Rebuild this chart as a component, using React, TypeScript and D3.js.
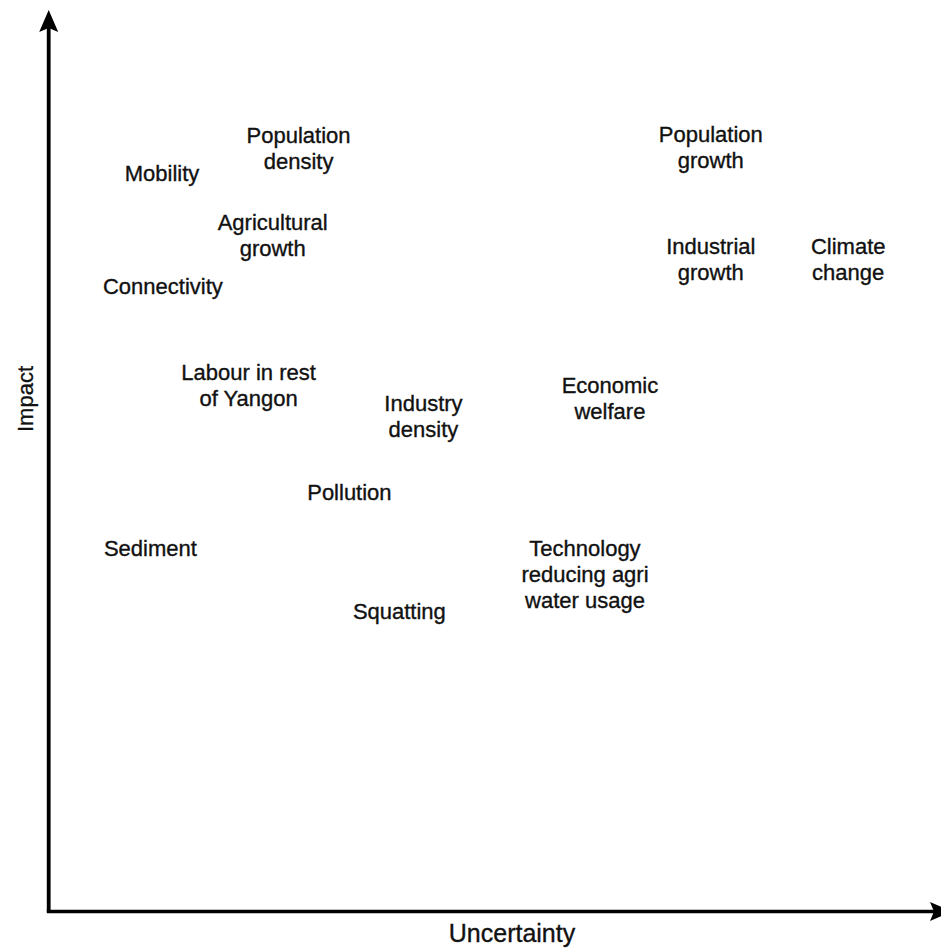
import React from "react";
import * as d3 from "d3";

const labels: string[] = [
  "Population\ndensity",
  "Mobility",
  "Agricultural\ngrowth",
  "Connectivity",
  "Population\ngrowth",
  "Industrial\ngrowth",
  "Climate\nchange",
  "Labour in rest\nof Yangon",
  "Industry\ndensity",
  "Economic\nwelfare",
  "Pollution",
  "Sediment",
  "Technology\nreducing agri\nwater usage",
  "Squatting",
];
const uncertainty: number[] = [28.0, 12.7, 25.1, 12.8, 74.2, 74.2, 89.6, 22.4, 42.0, 62.9, 33.7, 11.4, 60.1, 39.3];
const impact: number[] = [84.7, 81.9, 75.0, 69.4, 84.8, 72.4, 72.4, 58.4, 55.0, 56.9, 46.5, 40.3, 37.4, 33.3];

const xTitle = "Uncertainty";
const yTitle = "Impact";

const W = 941;
const H = 949;

export default function App() {
  const x = d3.scaleLinear().domain([0, 100]).range([48.7, 941]);
  const y = d3.scaleLinear().domain([0, 100]).range([911.5, 10]);
  const fs = 22;
  const lh = 26;
  const font = "'Liberation Sans', Arial, Helvetica, sans-serif";
  const x0 = x(0);
  const y0 = y(0);
  const yTop = y(100);
  const xEnd = x(100);
  const ah = 22;
  const aw = 9.5;
  const notch = 4;
  const upArrow = `M${x0},${yTop} L${x0 + aw},${yTop + ah} L${x0},${yTop + ah - notch} L${x0 - aw},${yTop + ah} Z`;
  const rightTip = xEnd + 11;
  const rightArrow = `M${rightTip},${y0} L${rightTip - ah},${y0 - aw} L${rightTip - ah + notch},${y0} L${rightTip - ah},${y0 + aw} Z`;

  return (
    <svg width={W} height={H} style={{ position: "absolute", left: 0, top: 0, background: "#fff" }}>
      <rect width={W} height={H} fill="#fff" />
      <line x1={x0} y1={y0} x2={x0} y2={yTop + ah - notch} stroke="#000" strokeWidth={3.8} />
      <line x1={x0 - 1.9} y1={y0} x2={rightTip - ah + notch} y2={y0} stroke="#000" strokeWidth={3.5} />
      <path d={upArrow} fill="#000" />
      <path d={rightArrow} fill="#000" />
      {labels.map((lab, i) => {
        const lines = lab.split("\n");
        const cx = x(uncertainty[i]);
        const cy = y(impact[i]);
        return (
          <text key={i} textAnchor="middle" fontFamily={font} fontSize={fs} fill="#111" stroke="#111" strokeWidth={0.35}>
            {lines.map((ln, j) => (
              <tspan key={j} x={cx} y={cy + (j - (lines.length - 1) / 2) * lh + fs * 0.36}>
                {ln}
              </tspan>
            ))}
          </text>
        );
      })}
      <text x={512} y={941.5} textAnchor="middle" fontFamily={font} fontSize={25} fill="#111" stroke="#111" strokeWidth={0.35}>
        {xTitle}
      </text>
      <text
        transform={`translate(33,399) rotate(-90)`}
        textAnchor="middle"
        fontFamily={font}
        fontSize={22}
        fill="#111"
        stroke="#111"
        strokeWidth={0.3}
      >
        {yTitle}
      </text>
    </svg>
  );
}
